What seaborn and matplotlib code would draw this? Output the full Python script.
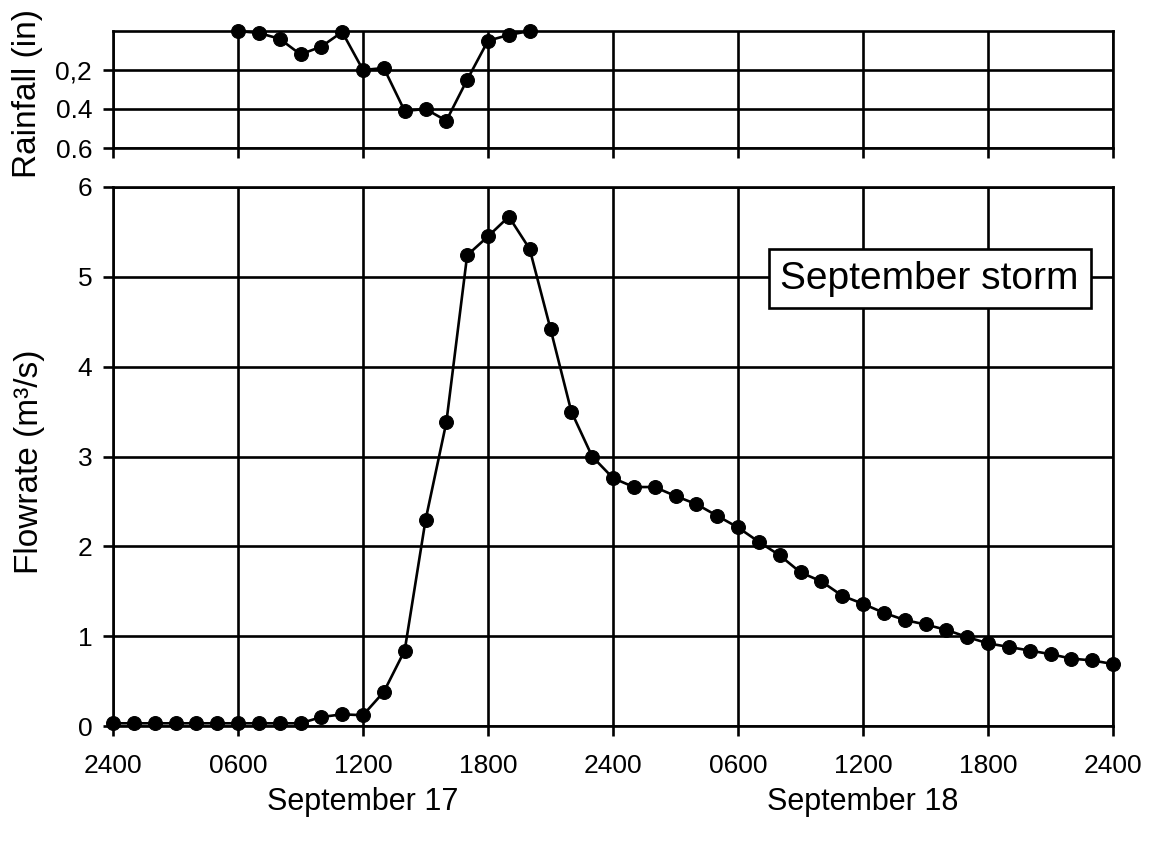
import numpy as np
import matplotlib
matplotlib.use("Agg")
import matplotlib.pyplot as plt
import matplotlib.transforms as mtransforms
import seaborn as sns

# ---- data ----
rain_hours = [6, 7, 8, 9, 10, 11, 12, 13, 14, 15, 16, 17, 18, 19, 20]
rain_in = [0.0, 0.01, 0.04, 0.12, 0.08, 0.005, 0.2, 0.19, 0.41, 0.40, 0.46, 0.25, 0.05, 0.02, 0.0]

flow_hours = list(range(0, 49))
flow_m3s = [0.03, 0.03, 0.03, 0.03, 0.03, 0.03, 0.03, 0.03, 0.03, 0.03,
            0.10, 0.13, 0.12, 0.38, 0.84, 2.29, 3.38, 5.24, 5.45, 5.67,
            5.31, 4.42, 3.50, 3.00, 2.76, 2.66, 2.66, 2.56, 2.47, 2.34,
            2.21, 2.05, 1.90, 1.71, 1.61, 1.45, 1.36, 1.26, 1.18, 1.13,
            1.07, 0.99, 0.92, 0.88, 0.84, 0.80, 0.75, 0.73, 0.69]

xtick_pos = [0, 6, 12, 18, 24, 30, 36, 42, 48]
xtick_labels = ['2400', '0600', '1200', '1800', '2400', '0600', '1200', '1800', '2400']
rain_ticks = [0.2, 0.4, 0.6]
rain_tick_labels = ['0,2', '0.4', '0.6']
flow_ticks = [0, 1, 2, 3, 4, 5, 6]
day_labels = ['September 17', 'September 18']
day_centers = [12, 36]
storm_label = 'September storm'

# ---- style ----
sns.set_style("ticks")
plt.rcParams['font.family'] = ['Liberation Sans', 'DejaVu Sans']
plt.rcParams['text.color'] = 'black'
plt.rcParams['axes.labelcolor'] = 'black'
plt.rcParams['xtick.color'] = 'black'
plt.rcParams['ytick.color'] = 'black'

fig = plt.figure(figsize=(11.55, 8.42), dpi=100)
W, H = 1155, 842
ax_top = fig.add_axes([113 / W, 1 - 148 / H, 1000 / W, 117 / H])
ax_bot = fig.add_axes([113 / W, 1 - 726 / H, 1000 / W, 539 / H])

lw = 1.9
for ax in (ax_top, ax_bot):
    ax.set_xlim(0, 48)
    ax.set_xticks(xtick_pos)
    ax.grid(True, color='black', linewidth=lw)
    for s in ax.spines.values():
        s.set_color('black')
        s.set_linewidth(lw)
        s.set_visible(True)
    ax.tick_params(axis='both', direction='out', length=7, width=lw, color='black',
                   labelcolor='black', labelsize=19, pad=8)
    ax.set_axisbelow(True)

# rainfall panel
sns.lineplot(x=rain_hours, y=rain_in, ax=ax_top, color='black', linewidth=lw,
             marker='o', markersize=10, markeredgecolor='black', clip_on=False)
ax_top.set_ylim(0.6, 0)
ax_top.set_yticks(rain_ticks)
ax_top.set_yticklabels(rain_tick_labels)
ax_top.set_xticklabels([])
ax_top.set_ylabel('Rainfall (in)', fontsize=24, color='black')
ax_top.yaxis.set_label_coords(-0.070, 0.47)

# flow panel
sns.lineplot(x=flow_hours, y=flow_m3s, ax=ax_bot, color='black', linewidth=lw,
             marker='o', markersize=10, markeredgecolor='black', clip_on=False)
ax_bot.set_ylim(0, 6)
ax_bot.set_yticks(flow_ticks)
ax_bot.set_xticklabels(xtick_labels)
ax_bot.tick_params(axis='x', pad=13)
ax_bot.set_ylabel('Flowrate (m³/s)', fontsize=24, color='black')
ax_bot.yaxis.set_label_coords(-0.068, 0.49)

trans = mtransforms.blended_transform_factory(ax_bot.transData, ax_bot.transAxes)
for lbl, c in zip(day_labels, day_centers):
    ax_bot.text(c, -0.141, lbl, transform=trans, ha='center', va='center',
                fontsize=22, color='black')

ax_bot.text(39.2, 4.98, storm_label, ha='center', va='center', fontsize=28, zorder=5,
            color='black',
            bbox=dict(boxstyle='square,pad=0.3', facecolor='white', edgecolor='black',
                      linewidth=lw))

fig.savefig('out.png', dpi=100)
